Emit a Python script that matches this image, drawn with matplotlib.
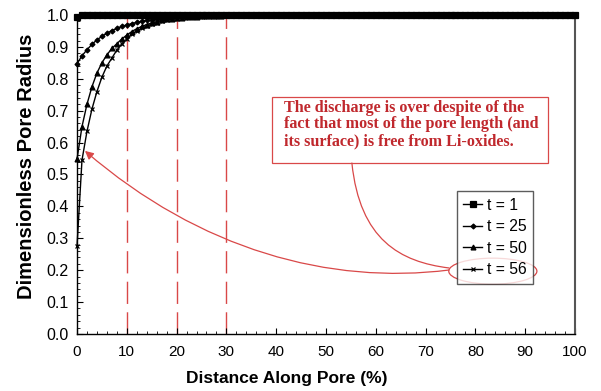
import matplotlib
matplotlib.use("Agg")
import matplotlib.pyplot as plt
from matplotlib.patches import Ellipse, Rectangle, FancyArrowPatch
from matplotlib.path import Path
from matplotlib.ticker import MultipleLocator, FormatStrFormatter

plt.rcParams["font.family"] = ["Liberation Sans", "DejaVu Sans"]

# ---------------- data ----------------
x = list(range(0, 101))

t1 = [0.995] + [1.0] * 100

t25_head = [0.847, 0.872, 0.891, 0.908, 0.922, 0.933, 0.943, 0.951, 0.958, 0.964,
            0.969, 0.973, 0.977, 0.980, 0.983, 0.985, 0.987, 0.989, 0.990, 0.992,
            0.993, 0.994, 0.995, 0.996, 0.996, 0.997, 0.997, 0.998, 0.998, 0.999,
            0.999]
t25 = t25_head + [1.0] * (101 - len(t25_head))

t50_head = [0.548, 0.650, 0.720, 0.775, 0.818, 0.850, 0.875, 0.895, 0.910, 0.925,
            0.937, 0.948, 0.957, 0.964, 0.970, 0.975, 0.979, 0.983, 0.986, 0.988,
            0.990, 0.992, 0.993, 0.994, 0.995, 0.996, 0.997, 0.997, 0.998, 0.998,
            0.999]
t50 = t50_head + [1.0] * (101 - len(t50_head))

t56_head = [0.275, 0.545, 0.635, 0.705, 0.760, 0.805, 0.840, 0.865, 0.890, 0.910,
            0.925, 0.940, 0.950, 0.958, 0.965, 0.971, 0.976, 0.980, 0.984, 0.987,
            0.989, 0.991, 0.993, 0.994, 0.995, 0.996, 0.997, 0.997, 0.998, 0.998,
            0.999]
t56 = t56_head + [1.0] * (101 - len(t56_head))

series = [("t = 1", t1, "s", 4.2), ("t = 25", t25, "D", 2.5),
          ("t = 50", t50, "^", 3.5), ("t = 56", t56, "x", 3.5)]

guide_x = [10, 20, 30]
xticks = list(range(0, 101, 10))
note = ("The discharge is over despite of the\n"
        "fact that most of the pore length (and\n"
        "its surface) is free from Li-oxides.")

# ---------------- figure ----------------
W, H = 601, 391
fig = plt.figure(figsize=(W / 100, H / 100), dpi=100)
ax = fig.add_axes([77 / W, 1 - 334 / H, (575 - 77) / W, (334 - 15) / H])

red = "#d94848"
txtred = "#c0282d"

for gx in guide_x:
    ax.plot([gx, gx], [0, 1.0], color=red, lw=1.0, dashes=(16, 6), zorder=1)

handles = []
for lab, ys, mk, ms in series:
    h, = ax.plot(x, ys, color="black", lw=1.0, marker=mk, ms=ms,
                 mew=0.9, mfc="black", mec="black", label=lab, zorder=3,
                 clip_on=False)
    handles.append(h)

ax.set_xlim(0, 100)
ax.set_ylim(0, 1.0)
ax.set_xticks(xticks)
ax.yaxis.set_major_locator(MultipleLocator(0.1))
ax.yaxis.set_major_formatter(FormatStrFormatter("%.1f"))
ax.xaxis.set_minor_locator(MultipleLocator(2))
ax.yaxis.set_minor_locator(MultipleLocator(0.02))
ax.tick_params(which="both", direction="in", color="black")
ax.tick_params(which="major", length=4, width=0.8)
ax.tick_params(which="minor", length=2.5, width=0.6)
ax.tick_params(axis="x", labelsize=11, pad=8)
ax.tick_params(axis="y", labelsize=11.5, pad=6)
for s in ax.spines.values():
    s.set_linewidth(1.0)
ax.spines["right"].set_color("#555555")
ax.spines["right"].set_linewidth(1.5)

ax.set_xlabel("Distance Along Pore (%)", fontsize=12.5, fontweight="bold")
ax.xaxis.set_label_coords(0.4217, -0.117)
ax.set_ylabel("Dimensionless Pore Radius", fontsize=14.5, fontweight="bold")
ax.yaxis.set_label_coords(-0.083, 0.527)

leg = ax.legend(handles=handles, loc="upper left", bbox_to_anchor=(76.3, 0.447),
                bbox_transform=ax.transData, fontsize=11.3, handlelength=1.2,
                handletextpad=0.3, borderpad=0.4, labelspacing=0.42,
                frameon=True, fancybox=False, edgecolor="#333333",
                borderaxespad=0)
leg.get_frame().set_linewidth(1.0)

# annotation box
ax.add_patch(Rectangle((39.2, 0.536), 55.4, 0.207, fill=False, ec=red, lw=0.9,
                       zorder=4))
ax.text(41.6, 0.735, note, color=txtred, fontsize=11.6, fontweight="bold",
        family="Liberation Serif", va="top", ha="left", linespacing=1.08, zorder=5)

# ellipse around t = 56
ax.add_patch(Ellipse((83.5, 0.197), 17.7, 0.0815, fill=False, ec=red, lw=0.9,
                     zorder=5, clip_on=False))

# curved arrow to the t=56 curve start
p1 = Path([(74.7, 0.2006), (50.8, 0.1536), (24.7, 0.263), (1.6, 0.574)],
          [Path.MOVETO, Path.CURVE4, Path.CURVE4, Path.CURVE4])
ax.add_patch(FancyArrowPatch(path=p1, arrowstyle="-|>,head_length=5,head_width=2.5",
                             color=red, lw=0.9, zorder=5))
# line from note box to ellipse
p2 = Path([(55.2, 0.536), (56.8, 0.295), (64.9, 0.226), (74.7, 0.207)],
          [Path.MOVETO, Path.CURVE4, Path.CURVE4, Path.CURVE4])
ax.add_patch(FancyArrowPatch(path=p2, arrowstyle="-", color=red, lw=0.9, zorder=5))

fig.savefig("out.png", dpi=100)
